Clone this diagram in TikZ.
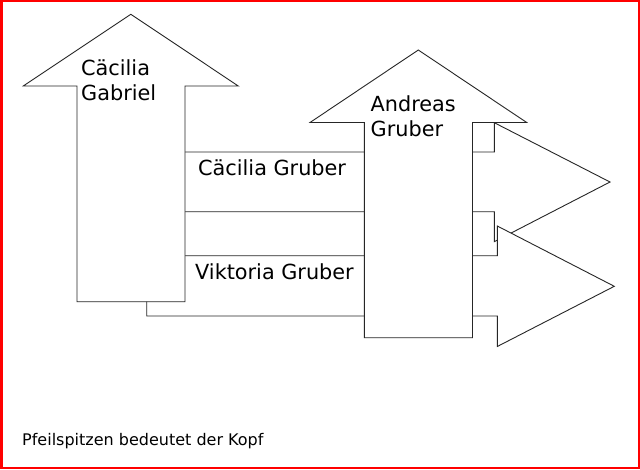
\documentclass[tikz,border=0pt]{standalone}
\usepackage{fontspec}
\setmainfont{DejaVu Sans}
\begin{document}
\begin{tikzpicture}[x=1pt,y=-1pt,
  shapeline/.style={draw=black!85, line width=0.9pt, fill=white, line join=miter},
  lbl/.style={anchor=base west, inner sep=0pt, font=\fontsize{20.8}{25}\selectfont, align=left},
  note/.style={anchor=base west, inner sep=0pt, font=\fontsize{16}{19}\selectfont}]
\path[fill=white] (0,0) rectangle (640,469);
\useasboundingbox (0,0) rectangle (640,469);
% right arrow (upper)
\draw[shapeline] (130,152) -- (494.3,152) -- (494.3,122.7) -- (610,182) -- (494.3,241.7) -- (494.3,211.7) -- (130,211.7) -- cycle;
% right arrow (lower)
\draw[shapeline] (146.7,255.7) -- (497.3,255.7) -- (497.3,226) -- (614.3,286.3) -- (497.3,346.5) -- (497.3,316) -- (146.7,316) -- cycle;
% up arrow Cäcilia Gabriel
\draw[shapeline] (77,301.7) -- (77,86) -- (23.3,86) -- (130.8,14.3) -- (238.3,86) -- (185,86) -- (185,301.7) -- cycle;
% up arrow Andreas Gruber
\draw[shapeline] (364.3,337.7) -- (364.3,122.5) -- (310,122.5) -- (418.3,50) -- (526.7,122.5) -- (472.5,122.5) -- (472.5,337.7) -- cycle;
% labels (base = baseline of the last line)
\node[lbl] (cg) at (81,100.7) {Cäcilia\\Gabriel};
\node[lbl] (ag) at (370.5,136.5) {Andreas\\Gruber};
\node[lbl] (cgr) at (198,175.7) {Cäcilia Gruber};
\node[lbl] (vg) at (195,279.3) {Viktoria Gruber};
\node[note] (nt) at (22,445.7) {Pfeilspitzen bedeutet der Kopf};
% red frame
\draw[red, line width=2.5pt] (1.3,1.2) rectangle (638.8,467.8);
\end{tikzpicture}
\end{document}
